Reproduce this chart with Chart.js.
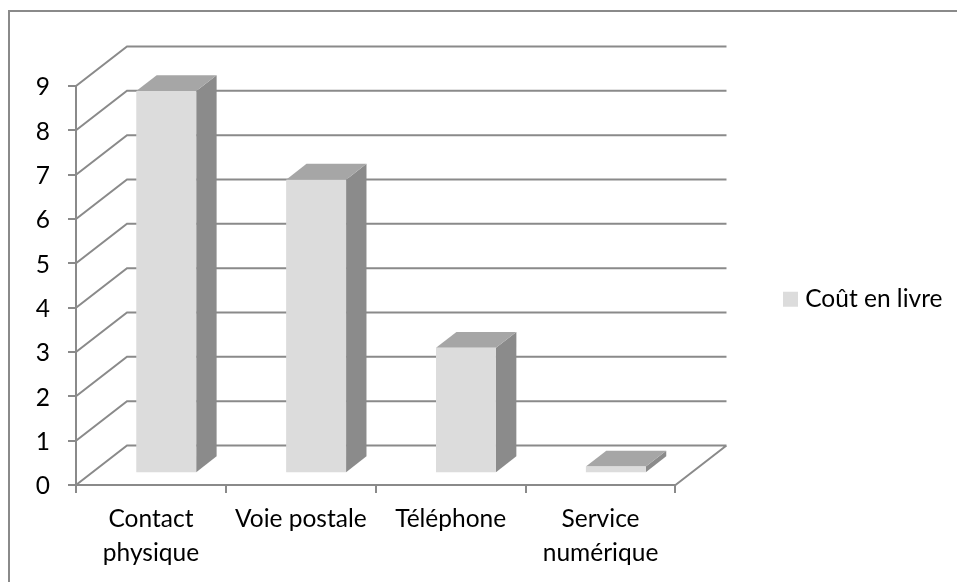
<!DOCTYPE html>
<html lang="fr">
<head>
<meta charset="utf-8">
<title>Coût en livre</title>
<style>
  html, body { margin: 0; padding: 0; background: #fff; }
  #wrap { width: 957px; height: 582px; position: relative; }
</style>
<script src="https://cdn.jsdelivr.net/npm/chart.js@4"></script>
</head>
<body>
<div id="wrap"><canvas id="chart" width="957" height="582"></canvas></div>
<script>
const categories = [['Contact', 'physique'], 'Voie postale', 'Téléphone', ['Service', 'numérique']];
const seriesName = 'Coût en livre';
const costs = [8.62, 6.62, 2.83, 0.15];
const yTicks = [0, 1, 2, 3, 4, 5, 6, 7, 8, 9];

const LINE = '#8a8a8a';
const FRONT = '#dcdcdc';
const TOP = '#a6a6a6';
const SIDE = '#8b8b8b';
const FONT = 'Lato, Carlito, sans-serif';
const FONT_SIZE = 24.5;

// Oblique projection: how far the back wall sits from the front plane.
const WALL_DX = 51;
const WALL_DY = -39.5;
// Bars stand between these two fractions of the floor's depth.
const BAR_NEAR = 0.3;
const BAR_FAR = 0.7;

const depth3d = {
  id: 'depth3d',

  beforeDraw(chart) {
    // Chart frame: only its top and left edges fall inside the canvas.
    const { ctx, width, height } = chart;
    ctx.save();
    ctx.fillStyle = '#fff';
    ctx.fillRect(0, 0, width, height);
    ctx.strokeStyle = LINE;
    ctx.lineWidth = 2;
    ctx.beginPath();
    ctx.moveTo(9, height);
    ctx.lineTo(9, 11);
    ctx.lineTo(width, 11);
    ctx.stroke();
    ctx.restore();
  },

  afterLayout(chart) {
    // Park the legend beside the plot, clear of the projected wall.
    const legend = chart.legend;
    const w = legend.width;
    legend.left = 778;
    legend.right = 778 + w;
    legend.top = 277;
    legend.bottom = 277 + legend.height;
    legend.adjustHitBoxes();
  },

  beforeDatasetsDraw(chart) {
    // Back wall gridlines and floor outline, projected from the value axis.
    const { ctx, chartArea, scales } = chart;
    const { left, right } = chartArea;
    ctx.save();
    ctx.strokeStyle = LINE;
    ctx.lineWidth = 2;
    ctx.lineJoin = 'miter';
    ctx.beginPath();
    for (const v of yTicks) {
      const y = scales.y.getPixelForValue(v);
      ctx.moveTo(left, y);
      ctx.lineTo(left + WALL_DX, y + WALL_DY);
      ctx.lineTo(right + WALL_DX, y + WALL_DY);
    }
    const y0 = scales.y.getPixelForValue(0);
    ctx.moveTo(right + WALL_DX, y0 + WALL_DY);
    ctx.lineTo(right, y0);
    ctx.stroke();
    ctx.restore();
  },

  beforeDatasetDraw(chart, args) {
    // Top and side faces first, then the library paints the front face
    // inside the translated context.
    const { ctx } = chart;
    const meta = args.meta;
    const nearX = WALL_DX * BAR_NEAR;
    const nearY = WALL_DY * BAR_NEAR;
    const depX = WALL_DX * (BAR_FAR - BAR_NEAR);
    const depY = WALL_DY * (BAR_FAR - BAR_NEAR);
    ctx.save();
    ctx.translate(nearX, nearY);
    for (const bar of meta.data) {
      const { x, y, base, width } = bar.getProps(['x', 'y', 'base', 'width'], true);
      const l = x - width / 2;
      const r = x + width / 2;
      ctx.fillStyle = SIDE;
      ctx.beginPath();
      ctx.moveTo(r, y);
      ctx.lineTo(r + depX, y + depY);
      ctx.lineTo(r + depX, base + depY);
      ctx.lineTo(r, base);
      ctx.closePath();
      ctx.fill();
      ctx.fillStyle = TOP;
      ctx.beginPath();
      ctx.moveTo(l, y);
      ctx.lineTo(l + depX, y + depY);
      ctx.lineTo(r + depX, y + depY);
      ctx.lineTo(r, y);
      ctx.closePath();
      ctx.fill();
    }
  },

  afterDatasetDraw(chart) {
    chart.ctx.restore();
  }
};

new Chart(document.getElementById('chart'), {
  type: 'bar',
  plugins: [depth3d],
  data: {
    labels: categories,
    datasets: [{
      label: seriesName,
      data: costs,
      backgroundColor: FRONT,
      borderWidth: 0,
      barPercentage: 0.4,
      categoryPercentage: 1
    }]
  },
  options: {
    responsive: false,
    animation: false,
    layout: { padding: { top: 86, left: 0, right: 107, bottom: 0 } },
    clip: false,
    plugins: {
      tooltip: { enabled: false },
      legend: {
        position: 'right',
        align: 'start',
        labels: {
          // A small swatch with a thick outline keeps the text close to it.
          boxWidth: 5,
          boxHeight: 5,
          color: '#000',
          font: { family: FONT, size: FONT_SIZE },
          generateLabels(chart) {
            return Chart.defaults.plugins.legend.labels.generateLabels(chart).map(item => ({
              ...item,
              strokeStyle: FRONT,
              lineWidth: 10
            }));
          }
        }
      }
    },
    scales: {
      x: {
        afterFit(s) { s.height = 97; },
        border: { color: LINE, width: 2 },
        grid: { drawOnChartArea: false, drawTicks: true, tickLength: 8, color: LINE, lineWidth: 2, offset: true },
        ticks: {
          color: '#000',
          padding: 10,
          maxRotation: 0,
          minRotation: 0,
          autoSkip: false,
          font: { family: FONT, size: FONT_SIZE, lineHeight: 1.35 }
        }
      },
      y: {
        afterFit(s) { s.width = 76; },
        min: 0,
        max: 9,
        border: { color: LINE, width: 2 },
        grid: { drawOnChartArea: false, drawTicks: true, tickLength: 8, color: LINE, lineWidth: 2 },
        ticks: {
          stepSize: 1,
          color: '#000',
          padding: 18,
          labelOffset: 1.5,
          font: { family: FONT, size: FONT_SIZE }
        }
      }
    }
  }
});
</script>
</body>
</html>
